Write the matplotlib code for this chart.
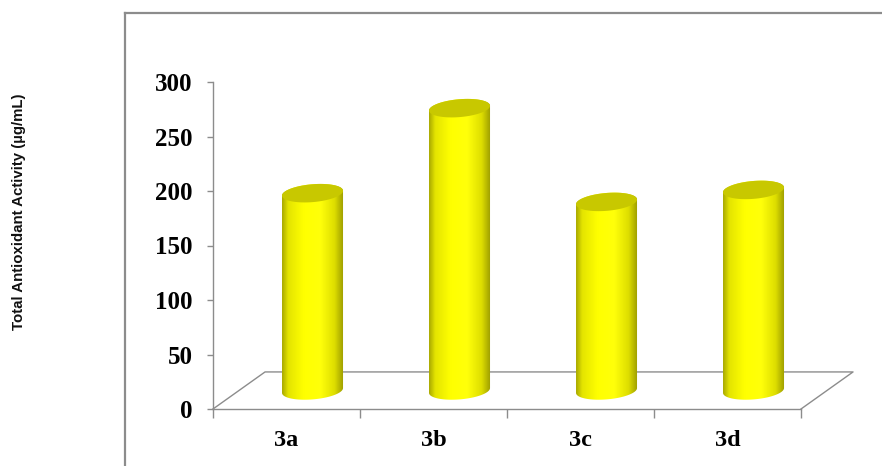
#!/usr/bin/env python
"""
plot.py — total antioxidant activity of compounds 3a-3d, drawn as
Excel-style 3D cylinders on a sloped floor. Writes out.png.
"""
import numpy as np
import matplotlib
matplotlib.use("Agg")
import matplotlib.pyplot as plt
from matplotlib.patches import Polygon
from matplotlib.lines import Line2D
from matplotlib.colors import LinearSegmentedColormap

# ---- data -----------------------------------------------------------------
compounds = ["3a", "3b", "3c", "3d"]
activity = [181, 259, 173, 184]          # µg/mL
yticks = [0, 50, 100, 150, 200, 250, 300]
ylabel = "Total Antioxidant Activity (µg/mL)"

# ---- style ----------------------------------------------------------------
W, H, DPI = 882, 466, 100
GREY = "#8c8c8c"
CAP = "#c8c800"
SERIF = "Liberation Serif"
SANS = "Liberation Sans"

# 3D look: floor depth (in category / value units) and cylinder shape
DEPTH_X, DEPTH_Y = 0.354, 34.0
RAD_X, RAD_Y, TILT = 0.2075, 8.2, 2.2

body_cmap = LinearSegmentedColormap.from_list(
    "cyl", [(0.0, "#a8a800"), (0.10, "#e4e400"), (0.35, "#ffff00"),
            (0.62, "#ffff0a"), (0.85, "#dede00"), (1.0, "#9a9a00")])


def ellipse(cx, cy, t):
    return cx + RAD_X * np.cos(t), cy + RAD_Y * np.sin(t) + TILT * np.cos(t)


def cylinder(ax, cx, y0, h):
    lo = np.linspace(np.pi, 2 * np.pi, 80)
    hi = np.linspace(0, np.pi, 80)
    bx, by = ellipse(cx, y0, lo)
    tx, ty = ellipse(cx, y0 + h, hi)
    body = Polygon(np.column_stack([np.r_[bx, tx], np.r_[by, ty]]),
                   closed=True, facecolor="none", edgecolor="none", zorder=3)
    ax.add_patch(body)
    grad = np.linspace(0, 1, 256)[np.newaxis, :]
    im = ax.imshow(grad, cmap=body_cmap, aspect="auto", interpolation="bilinear",
                   extent=(cx - RAD_X, cx + RAD_X, y0 - RAD_Y - 3, y0 + h + RAD_Y + 3),
                   zorder=3)
    im.set_clip_path(body)
    full = np.linspace(0, 2 * np.pi, 160)
    cx_, cy_ = ellipse(cx, y0 + h, full)
    ax.add_patch(Polygon(np.column_stack([cx_, cy_]), closed=True,
                         facecolor=CAP, edgecolor="none", zorder=4))


fig = plt.figure(figsize=(W / DPI, H / DPI), dpi=DPI)

# outer chart-area frame (runs off the right and bottom edges)
fx, fy = 125 / W, 1 - 12.5 / H
fig.add_artist(Line2D([fx, fx], [-0.1, fy], color=GREY, lw=1.6))
fig.add_artist(Line2D([fx, 1.1], [fy, fy], color=GREY, lw=1.6))

xmax = len(compounds) + DEPTH_X + 0.006
ax = fig.add_axes([213 / W, (H - 409) / H, xmax * 147 / W, 327 / H])
ax.patch.set_visible(False)

# floor
n = len(compounds)
ax.plot([0, DEPTH_X, n + DEPTH_X, n], [0, DEPTH_Y, DEPTH_Y, 0],
        color=GREY, lw=1.0, zorder=1, clip_on=False)

for i, v in enumerate(activity):
    cylinder(ax, i + 0.5 + DEPTH_X / 2, DEPTH_Y / 2, v)

ax.set_xlim(0, xmax)
ax.set_ylim(0, 300)

for s in ("top", "right"):
    ax.spines[s].set_visible(False)
for s in ("left", "bottom"):
    ax.spines[s].set_color(GREY)
    ax.spines[s].set_linewidth(1.0)
ax.spines["bottom"].set_bounds(0, n)

ax.set_yticks(yticks)
ax.set_yticklabels([str(t) for t in yticks], fontfamily=SERIF,
                   fontweight="bold", fontsize=18)
ax.tick_params(axis="y", direction="out", length=4.3, width=1.0,
               color=GREY, pad=10.5)

ax.set_xticks(range(n + 1))
ax.set_xticklabels([])
ax.set_xticks([i + 0.5 for i in range(n)], minor=True)
ax.set_xticklabels(compounds, minor=True, fontfamily=SERIF,
                   fontweight="bold", fontsize=17.5)
ax.tick_params(axis="x", which="major", direction="out", length=6.5,
               width=1.0, color=GREY)
ax.tick_params(axis="x", which="minor", length=0, pad=15)

fig.text(19 / W, 1 - 212 / H, ylabel, rotation=90, ha="center", va="center",
         fontfamily=SANS, fontweight="bold", fontsize=10.8, color="#111111")

fig.savefig("out.png", dpi=DPI)
